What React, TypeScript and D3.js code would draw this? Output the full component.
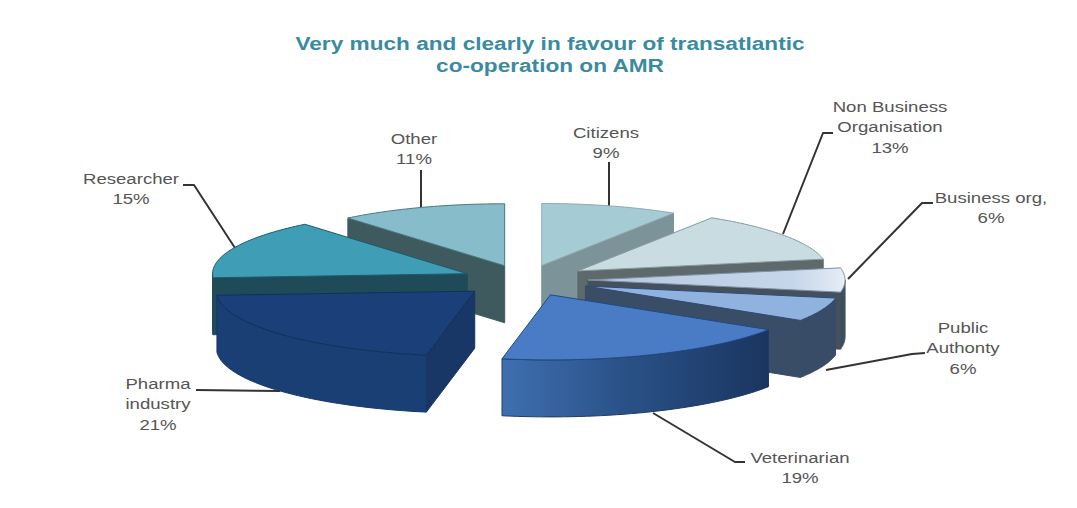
import React from "react";
import * as d3 from "d3";

const categories = ["Citizens", "Non Business Organisation", "Business org,", "Public Authonty", "Veterinarian", "Pharma industry", "Researcher", "Other"];
const shares = [9, 13, 6, 6, 19, 21, 15, 11];
const explosions = [60, 64, 63, 65, 64, 67, 63, 60];
const radiusScale = [1, 1.015, 1.045, 1.035, 1.05, 1.05, 1.035, 1];
const topColors = ["#a5ccd4", "#c8dce1", "url(#bizTop)", "#8fb2de", "#4a7cc6", "#1b3f78", "#3f9db6", "#87bccb"];
const wallColors = ["#7c9499", "#606c6f", "#3c4e62", "#384c68", "url(#vetWall)", "#1a3f74", "#1f4b59", "#3e5a5f"];
const faceColors = ["#7c9499", "#5d696b", "#44505c", "#3a4d66", "#1d3a68", "#183766", "#1f4b59", "#3e5a5f"];
const edgeColors = ["#8fa9ae", "#8a9a9e", "#7f8fa6", "#2f4a78", "#1f4a86", "#12305e", "#1f5a6c", "#4d7680"];
const paintOrder = [0, 7, 1, 2, 3, 6, 4, 5];

const labelLines = [["Citizens", "9%"], ["Non Business", "Organisation", "13%"], ["Business org,", "6%"], ["Public", "Authonty", "6%"], ["Veterinarian", "19%"], ["Pharma", "industry", "21%"], ["Researcher", "15%"], ["Other", "11%"]];
const labelAnchors: [number, number][] = [[606, 138], [890, 112], [991, 203], [963, 333], [800, 463], [158, 389], [131, 184], [414, 144]];
const leaders: [number, number][][] = [
  [[609, 162], [609, 206]],
  [[833, 133], [823, 133], [783, 234]],
  [[933, 203], [922, 203], [848, 279]],
  [[925, 353], [912, 354], [826, 370]],
  [[745, 462], [735, 462], [653, 413]],
  [[196, 390], [280, 391]],
  [[183, 185], [194, 185], [235, 248]],
  [[421, 170], [421, 207]],
];

const cx = 525, cy = 280, rx = 246, ry = 62, depth = 57;
const pieGen = d3.pie<number>().sort(null).value((d) => d);
const arcs = pieGen(shares);
const lineGen = d3.line<[number, number]>();

function Slice({ i }: { i: number }) {
  const { startAngle: a, endAngle: b } = arcs[i];
  const mid = (a + b) / 2;
  const ox = cx + explosions[i] * Math.sin(mid);
  const oy = cy - explosions[i] * (ry / rx) * Math.cos(mid);
  const pt = (t: number, dz = 0): [number, number] => [ox + rx * radiusScale[i] * Math.sin(t), oy - ry * radiusScale[i] * Math.cos(t) + dz];
  const sample = (s: number, e: number, dz = 0) => d3.range(0, 41).map((k) => pt(s + ((e - s) * k) / 40, dz));
  const apex: [number, number] = [ox, oy];
  const apexLow: [number, number] = [ox, oy + depth];
  const top = lineGen([apex, ...sample(a, b)]) + "Z";
  const faceA = lineGen([apex, pt(a), pt(a, depth), apexLow]) + "Z";
  const faceB = lineGen([apex, pt(b), pt(b, depth), apexLow]) + "Z";
  const ws = Math.max(a, Math.PI / 2), we = Math.min(b, (3 * Math.PI) / 2);
  const wall = we > ws ? lineGen([...sample(ws, we), ...sample(ws, we, depth).reverse()]) + "Z" : null;
  const edge = { stroke: edgeColors[i], strokeWidth: 1, strokeLinejoin: "round" as const };
  return (
    <g>
      {a > Math.PI && <path d={faceA} fill={faceColors[i]} stroke={faceColors[i]} strokeWidth={1} />}
      {Math.sin(b) > 0 && <path d={faceB} fill={faceColors[i]} stroke={faceColors[i]} strokeWidth={1} />}
      {wall && <path d={wall} fill={wallColors[i]} stroke={faceColors[i]} strokeWidth={1} />}
      <path d={top} fill={topColors[i]} {...edge} />
    </g>
  );
}

export default function App() {
  const font = "'Liberation Sans', Arial, sans-serif";
  return (
    <svg width={1077} height={508} style={{ position: "absolute", left: 0, top: 0, background: "#fff" }} fontFamily={font}>
      <defs>
        <linearGradient id="vetWall" x1="0" x2="1" y1="0" y2="0">
          <stop offset="0" stopColor="#3f6fb0" />
          <stop offset="0.45" stopColor="#2a5288" />
          <stop offset="1" stopColor="#1a3560" />
        </linearGradient>
        <linearGradient id="bizTop" x1="0" x2="1" y1="0" y2="0">
          <stop offset="0" stopColor="#b5c8e2" />
          <stop offset="0.8" stopColor="#c6d6ea" />
          <stop offset="1" stopColor="#e6edf5" />
        </linearGradient>
      </defs>
      <g transform="translate(550,0) scale(1.257,1)">
        <text textAnchor="middle" fontSize={18} fontWeight="bold" fill="#3a8b9f">
          <tspan x={0} y={50}>Very much and clearly in favour of transatlantic</tspan>
          <tspan x={0} y={72}>co-operation on AMR</tspan>
        </text>
      </g>
      {leaders.map((l, i) => (
        <path key={i} d={lineGen(l) || ""} fill="none" stroke="#333" strokeWidth={2} strokeLinejoin="round" />
      ))}
      {paintOrder.map((i) => (
        <Slice key={i} i={i} />
      ))}
      {labelLines.map((lines, i) => (
        <g key={categories[i]} transform={`translate(${labelAnchors[i][0]},${labelAnchors[i][1]}) scale(1.24,1)`}>
          <text textAnchor="middle" fontSize={15} fill="#555">
            {lines.map((t, k) => (
              <tspan key={k} x={0} y={k * 20.3}>{t}</tspan>
            ))}
          </text>
        </g>
      ))}
    </svg>
  );
}
